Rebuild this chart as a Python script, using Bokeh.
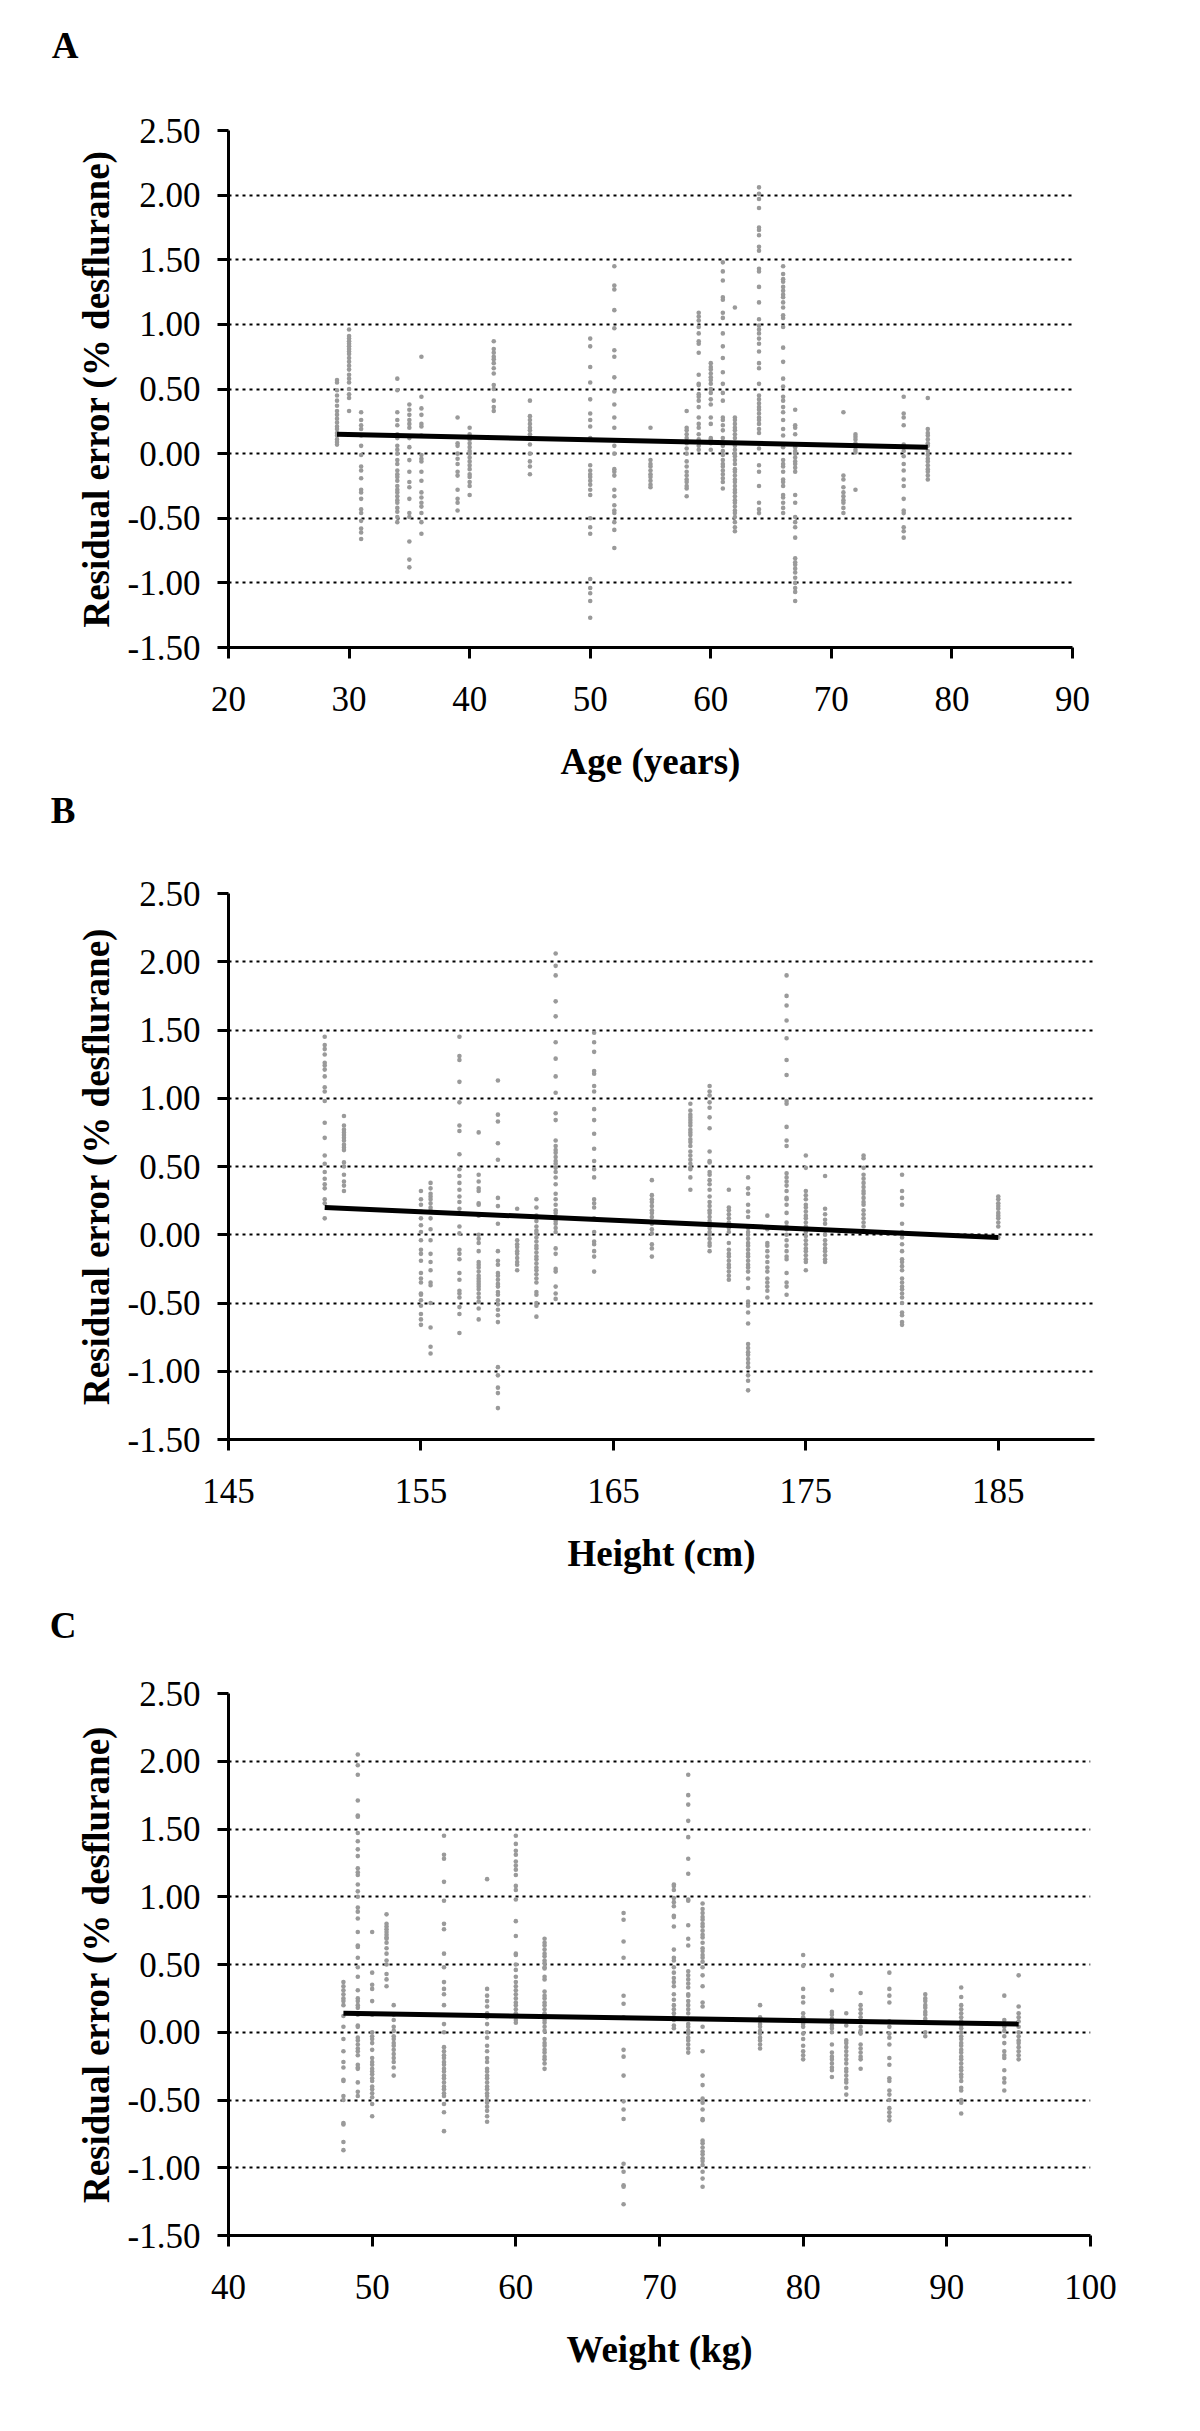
from bokeh.plotting import figure
from bokeh.layouts import column
from bokeh.models import Range1d, FixedTicker, NumeralTickFormatter
from bokeh.embed import file_html
from bokeh.resources import INLINE

# ---------------- data ----------------
panel_letters = ["A", "B", "C"]
x_labels = ["Age (years)", "Height (cm)", "Weight (kg)"]
y_label = "Residual error (% desflurane)"
y_ticks = [-1.5, -1.0, -0.5, 0.0, 0.5, 1.0, 1.5, 2.0, 2.5]

age_ticks = [20, 30, 40, 50, 60, 70, 80, 90]
age_values = [29, 30, 31, 34, 35, 36, 39, 40, 42, 45, 50, 52, 55, 58, 59, 60, 61, 62, 64, 66, 67, 71, 72, 76, 78]
age_residuals = [
    [0.57, 0.55, 0.49, 0.45, 0.41, 0.37, 0.33, 0.30, 0.27, 0.24, 0.21, 0.19, 0.16, 0.14, 0.11, 0.09, 0.07],
    [0.96, 0.91, 0.89, 0.87, 0.85, 0.83, 0.81, 0.79, 0.77, 0.74, 0.71, 0.68, 0.65, 0.61, 0.58, 0.55, 0.50, 0.46, 0.43, 0.33],
    [0.32, 0.26, 0.22, 0.19, 0.14, 0.06, -0.01, -0.10, -0.13, -0.19, -0.28, -0.30, -0.35, -0.43, -0.46, -0.52, -0.58, -0.61, -0.66],
    [0.58, 0.49, 0.32, 0.26, 0.22, 0.15, 0.12, 0.06, 0.03, 0.00, -0.05, -0.08, -0.13, -0.16, -0.18, -0.21, -0.25, -0.28, -0.30, -0.33, -0.36, -0.38, -0.42, -0.45, -0.49, -0.53],
    [0.38, 0.34, 0.30, 0.26, 0.23, 0.20, 0.12, 0.05, -0.05, -0.14, -0.22, -0.26, -0.35, -0.46, -0.49, -0.68, -0.82, -0.88],
    [0.75, 0.44, 0.35, 0.30, 0.23, 0.21, 0.14, -0.01, -0.04, -0.06, -0.14, -0.21, -0.30, -0.34, -0.38, -0.41, -0.46, -0.53, -0.62],
    [0.28, 0.08, 0.06, 0.00, -0.04, -0.08, -0.14, -0.17, -0.28, -0.35, -0.38, -0.44],
    [0.20, 0.15, 0.11, 0.08, 0.05, 0.02, 0.00, -0.03, -0.06, -0.09, -0.12, -0.16, -0.18, -0.22, -0.25, -0.32],
    [0.87, 0.81, 0.78, 0.75, 0.73, 0.70, 0.66, 0.62, 0.53, 0.50, 0.41, 0.36, 0.33],
    [0.41, 0.29, 0.26, 0.23, 0.20, 0.18, 0.15, 0.07, 0.00, -0.06, -0.10, -0.16],
    [0.89, 0.83, 0.67, 0.55, 0.42, 0.31, 0.26, 0.21, 0.12, -0.09, -0.13, -0.16, -0.18, -0.21, -0.24, -0.28, -0.32, -0.50, -0.57, -0.62, -0.97, -1.04, -1.08, -1.14, -1.27],
    [1.45, 1.30, 1.27, 1.11, 0.97, 0.80, 0.75, 0.59, 0.48, 0.38, 0.28, 0.20, 0.06, 0.00, -0.12, -0.14, -0.17, -0.28, -0.33, -0.40, -0.44, -0.46, -0.53, -0.59, -0.73],
    [0.20, -0.05, -0.08, -0.10, -0.13, -0.16, -0.18, -0.21, -0.24, -0.26],
    [0.33, 0.20, 0.18, 0.15, 0.12, 0.08, 0.04, 0.00, -0.06, -0.10, -0.14, -0.17, -0.20, -0.22, -0.25, -0.27, -0.33],
    [1.09, 1.06, 1.03, 0.98, 0.93, 0.87, 0.85, 0.78, 0.61, 0.54, 0.53, 0.46, 0.44, 0.41, 0.36, 0.28, 0.23, 0.20, 0.15, 0.11, 0.06, 0.03],
    [0.70, 0.67, 0.65, 0.62, 0.59, 0.57, 0.54, 0.50, 0.47, 0.42, 0.38, 0.28, 0.23, 0.12, 0.11, 0.08, 0.03],
    [1.48, 1.41, 1.34, 1.21, 1.19, 1.09, 1.05, 0.93, 0.83, 0.74, 0.63, 0.54, 0.47, 0.41, 0.28, 0.26, 0.22, 0.18, 0.12, 0.08, 0.06, 0.02, -0.01, -0.05, -0.08, -0.10, -0.13, -0.16, -0.19, -0.22, -0.27],
    [1.13, 0.28, 0.26, 0.23, 0.20, 0.18, 0.15, 0.12, 0.08, 0.06, 0.03, 0.00, -0.02, -0.05, -0.08, -0.12, -0.14, -0.17, -0.20, -0.22, -0.25, -0.28, -0.30, -0.33, -0.36, -0.38, -0.41, -0.44, -0.46, -0.49, -0.53, -0.57, -0.60],
    [2.06, 2.01, 1.97, 1.90, 1.75, 1.73, 1.69, 1.60, 1.57, 1.43, 1.41, 1.29, 1.17, 1.04, 0.99, 0.96, 0.93, 0.89, 0.85, 0.79, 0.70, 0.66, 0.54, 0.45, 0.42, 0.39, 0.36, 0.34, 0.31, 0.28, 0.26, 0.23, 0.19, 0.16, 0.04, -0.09, -0.14, -0.25, -0.38, -0.43, -0.46],
    [1.45, 1.39, 1.35, 1.33, 1.29, 1.26, 1.23, 1.21, 1.17, 1.13, 1.07, 1.05, 0.98, 0.82, 0.71, 0.58, 0.52, 0.44, 0.41, 0.36, 0.32, 0.26, 0.19, 0.14, 0.05, -0.05, -0.08, -0.10, -0.14, -0.20, -0.22, -0.25, -0.32, -0.34, -0.38, -0.42, -0.46],
    [0.34, 0.22, 0.20, 0.15, 0.05, 0.02, 0.00, -0.03, -0.06, -0.08, -0.11, -0.14, -0.32, -0.38, -0.49, -0.53, -0.57, -0.65, -0.81, -0.84, -0.86, -0.89, -0.92, -0.96, -1.00, -1.04, -1.07, -1.14],
    [0.32, -0.17, -0.20, -0.26, -0.30, -0.33, -0.36, -0.38, -0.42, -0.46],
    [0.15, 0.13, 0.11, 0.08, 0.06, 0.03, 0.01, -0.28],
    [0.44, 0.31, 0.28, 0.22, 0.07, 0.02, -0.02, -0.08, -0.13, -0.20, -0.25, -0.35, -0.44, -0.46, -0.57, -0.60, -0.65],
    [0.43, 0.19, 0.16, 0.14, 0.11, 0.08, 0.06, 0.02, -0.01, -0.04, -0.06, -0.09, -0.12, -0.14, -0.17, -0.20],
]
age_fit_x = [29, 78]
age_fit_y = [0.15, 0.05]

height_ticks = [145, 155, 165, 175, 185]
height_values = [150, 151, 155, 155.5, 157, 158, 159, 160, 161, 162, 164, 167, 169, 170, 171, 172, 173, 174, 175, 176, 178, 180, 185]
height_residuals = [
    [1.45, 1.39, 1.36, 1.32, 1.26, 1.24, 1.21, 1.16, 1.08, 1.05, 0.98, 0.82, 0.71, 0.58, 0.52, 0.46, 0.41, 0.37, 0.34, 0.26, 0.23, 0.12],
    [0.87, 0.80, 0.77, 0.75, 0.73, 0.71, 0.69, 0.66, 0.64, 0.62, 0.53, 0.50, 0.44, 0.39, 0.36, 0.32],
    [0.32, 0.26, 0.22, 0.17, 0.12, 0.07, 0.02, -0.04, -0.11, -0.14, -0.19, -0.28, -0.32, -0.35, -0.43, -0.44, -0.48, -0.52, -0.58, -0.62, -0.66],
    [0.38, 0.34, 0.30, 0.28, 0.26, 0.23, 0.20, 0.18, 0.12, 0.04, -0.04, -0.14, -0.20, -0.26, -0.35, -0.37, -0.50, -0.68, -0.82, -0.87],
    [1.45, 1.31, 1.28, 1.12, 0.97, 0.80, 0.76, 0.59, 0.48, 0.43, 0.38, 0.33, 0.28, 0.24, 0.19, 0.06, 0.01, -0.11, -0.14, -0.18, -0.28, -0.33, -0.41, -0.43, -0.46, -0.53, -0.58, -0.72],
    [0.75, 0.44, 0.39, 0.34, 0.32, 0.23, 0.22, 0.14, 0.00, -0.03, -0.06, -0.12, -0.20, -0.22, -0.24, -0.27, -0.30, -0.32, -0.34, -0.36, -0.38, -0.40, -0.43, -0.46, -0.49, -0.54, -0.62],
    [1.13, 0.88, 0.83, 0.67, 0.55, 0.27, 0.21, 0.08, -0.12, -0.19, -0.22, -0.28, -0.30, -0.33, -0.36, -0.38, -0.42, -0.44, -0.48, -0.51, -0.55, -0.59, -0.64, -0.97, -1.03, -1.12, -1.16, -1.27],
    [0.19, -0.04, -0.07, -0.09, -0.12, -0.14, -0.17, -0.20, -0.22, -0.26],
    [0.26, 0.20, 0.14, 0.10, 0.06, 0.03, 0.01, -0.02, -0.05, -0.08, -0.10, -0.13, -0.16, -0.18, -0.21, -0.24, -0.26, -0.29, -0.32, -0.35, -0.42, -0.44, -0.50, -0.52, -0.60],
    [2.06, 1.97, 1.90, 1.71, 1.60, 1.41, 1.29, 1.16, 1.04, 0.89, 0.84, 0.69, 0.65, 0.62, 0.60, 0.57, 0.54, 0.52, 0.49, 0.46, 0.42, 0.37, 0.30, 0.26, 0.22, 0.18, 0.16, 0.13, 0.10, 0.08, 0.05, 0.02, -0.10, -0.14, -0.25, -0.27, -0.38, -0.43, -0.47],
    [1.48, 1.41, 1.34, 1.20, 1.18, 1.09, 1.05, 0.92, 0.84, 0.74, 0.63, 0.54, 0.48, 0.42, 0.26, 0.23, 0.20, 0.12, 0.02, -0.05, -0.07, -0.12, -0.16, -0.27],
    [0.40, 0.29, 0.26, 0.24, 0.21, 0.18, 0.16, 0.13, 0.08, 0.04, 0.01, -0.07, -0.10, -0.16],
    [0.96, 0.91, 0.88, 0.86, 0.84, 0.82, 0.80, 0.77, 0.75, 0.73, 0.70, 0.68, 0.65, 0.61, 0.58, 0.55, 0.52, 0.49, 0.48, 0.42, 0.33],
    [1.09, 1.05, 1.02, 0.97, 0.93, 0.86, 0.78, 0.61, 0.54, 0.53, 0.46, 0.44, 0.40, 0.37, 0.33, 0.28, 0.24, 0.21, 0.18, 0.16, 0.13, 0.10, 0.08, 0.05, 0.02, 0.00, -0.03, -0.06, -0.08, -0.12],
    [0.33, 0.20, 0.18, 0.15, 0.12, 0.09, 0.05, 0.02, -0.06, -0.11, -0.14, -0.16, -0.19, -0.22, -0.24, -0.27, -0.30, -0.33],
    [0.42, 0.34, 0.30, 0.22, 0.17, 0.13, 0.05, 0.02, 0.00, -0.03, -0.06, -0.08, -0.11, -0.14, -0.16, -0.19, -0.22, -0.24, -0.27, -0.32, -0.39, -0.49, -0.52, -0.57, -0.65, -0.80, -0.83, -0.86, -0.88, -0.91, -0.94, -0.97, -1.03, -1.07, -1.14],
    [0.14, 0.04, -0.06, -0.08, -0.12, -0.16, -0.20, -0.24, -0.27, -0.32, -0.35, -0.38, -0.41, -0.46],
    [1.90, 1.75, 1.68, 1.57, 1.44, 1.28, 1.17, 0.98, 0.96, 0.79, 0.69, 0.65, 0.45, 0.42, 0.39, 0.36, 0.32, 0.27, 0.26, 0.22, 0.16, 0.09, 0.06, 0.04, 0.00, -0.04, -0.08, -0.12, -0.16, -0.18, -0.28, -0.35, -0.38, -0.44],
    [0.58, 0.49, 0.32, 0.29, 0.26, 0.22, 0.20, 0.17, 0.14, 0.12, 0.09, 0.06, 0.04, 0.02, -0.01, -0.04, -0.07, -0.10, -0.12, -0.15, -0.18, -0.20, -0.26],
    [0.43, 0.19, 0.15, 0.11, 0.08, 0.03, 0.00, -0.04, -0.07, -0.10, -0.12, -0.15, -0.18, -0.20],
    [0.58, 0.56, 0.49, 0.44, 0.41, 0.38, 0.35, 0.32, 0.30, 0.27, 0.24, 0.22, 0.18, 0.15, 0.12, 0.09, 0.06],
    [0.44, 0.32, 0.27, 0.22, 0.08, 0.02, -0.02, -0.07, -0.12, -0.18, -0.20, -0.23, -0.26, -0.32, -0.35, -0.38, -0.40, -0.43, -0.46, -0.50, -0.57, -0.59, -0.64, -0.66],
    [0.28, 0.26, 0.23, 0.21, 0.19, 0.16, 0.14, 0.12, 0.09, 0.06, -0.02],
]
height_fit_x = [150, 185]
height_fit_y = [0.20, -0.02]

weight_ticks = [40, 50, 60, 70, 80, 90, 100]
weight_values = [48, 49, 50, 51, 51.5, 55, 58, 60, 62, 67.5, 71, 72, 73, 77, 80, 82, 83, 84, 86, 88.5, 91, 94, 95]
weight_residuals = [
    [0.37, 0.34, 0.31, 0.28, 0.25, 0.23, 0.20, 0.12, 0.04, -0.05, -0.14, -0.22, -0.26, -0.35, -0.36, -0.47, -0.50, -0.67, -0.68, -0.81, -0.87],
    [2.05, 1.97, 1.90, 1.71, 1.60, 1.59, 1.47, 1.41, 1.35, 1.30, 1.21, 1.18, 1.16, 1.09, 1.04, 1.00, 0.92, 0.89, 0.84, 0.74, 0.64, 0.63, 0.55, 0.48, 0.41, 0.31, 0.25, 0.23, 0.20, 0.18, 0.13, 0.05, 0.04, -0.04, -0.06, -0.09, -0.12, -0.14, -0.17, -0.24, -0.26, -0.27, -0.37, -0.44, -0.47],
    [0.74, 0.44, 0.35, 0.32, 0.23, 0.13, 0.00, -0.03, -0.05, -0.08, -0.13, -0.19, -0.22, -0.24, -0.27, -0.29, -0.31, -0.34, -0.36, -0.40, -0.42, -0.45, -0.48, -0.53, -0.62],
    [0.87, 0.80, 0.78, 0.76, 0.74, 0.72, 0.70, 0.69, 0.66, 0.62, 0.58, 0.53, 0.50, 0.43, 0.39, 0.34],
    [0.20, 0.13, 0.09, 0.04, 0.01, -0.03, -0.05, -0.08, -0.10, -0.13, -0.16, -0.19, -0.22, -0.26, -0.32],
    [1.45, 1.31, 1.28, 1.11, 0.97, 0.80, 0.76, 0.58, 0.48, 0.37, 0.32, 0.28, 0.20, 0.06, 0.00, -0.11, -0.14, -0.17, -0.19, -0.22, -0.24, -0.27, -0.29, -0.32, -0.34, -0.37, -0.40, -0.42, -0.45, -0.47, -0.53, -0.59, -0.73],
    [1.13, 0.32, 0.27, 0.23, 0.19, 0.14, 0.11, 0.06, 0.00, -0.04, -0.10, -0.14, -0.19, -0.22, -0.27, -0.29, -0.32, -0.34, -0.37, -0.40, -0.42, -0.45, -0.47, -0.50, -0.52, -0.55, -0.58, -0.62, -0.66],
    [1.45, 1.39, 1.34, 1.31, 1.26, 1.23, 1.20, 1.16, 1.08, 1.05, 0.98, 0.82, 0.71, 0.58, 0.57, 0.50, 0.46, 0.41, 0.37, 0.34, 0.31, 0.28, 0.25, 0.22, 0.20, 0.17, 0.14, 0.12, 0.09, 0.07],
    [0.69, 0.66, 0.64, 0.61, 0.58, 0.56, 0.53, 0.51, 0.48, 0.47, 0.41, 0.39, 0.30, 0.27, 0.25, 0.22, 0.20, 0.17, 0.14, 0.12, 0.09, 0.07, 0.04, 0.01, -0.05, -0.08, -0.10, -0.13, -0.15, -0.18, -0.20, -0.23, -0.27],
    [0.88, 0.83, 0.67, 0.55, 0.27, 0.21, 0.11, -0.13, -0.18, -0.32, -0.51, -0.57, -0.64, -0.97, -1.03, -1.13, -1.14, -1.27],
    [1.09, 1.08, 1.05, 0.99, 0.96, 0.93, 0.86, 0.85, 0.78, 0.61, 0.55, 0.53, 0.48, 0.44, 0.40, 0.37, 0.34, 0.28, 0.24, 0.20, 0.17, 0.14, 0.11, 0.09, 0.05, 0.03],
    [1.90, 1.75, 1.68, 1.56, 1.44, 1.28, 1.17, 0.98, 0.97, 0.79, 0.69, 0.64, 0.45, 0.42, 0.39, 0.36, 0.33, 0.28, 0.27, 0.23, 0.20, 0.17, 0.14, 0.10, 0.06, 0.04, 0.01, -0.01, -0.04, -0.06, -0.09, -0.12, -0.15],
    [0.95, 0.91, 0.88, 0.85, 0.83, 0.80, 0.78, 0.75, 0.72, 0.70, 0.66, 0.62, 0.60, 0.57, 0.55, 0.52, 0.48, 0.42, 0.34, 0.22, 0.19, 0.04, -0.14, -0.32, -0.39, -0.49, -0.52, -0.57, -0.64, -0.65, -0.80, -0.82, -0.85, -0.88, -0.90, -0.93, -0.95, -0.98, -1.03, -1.08, -1.14],
    [0.20, 0.11, 0.09, 0.06, 0.04, 0.01, -0.01, -0.04, -0.06, -0.09, -0.12],
    [0.57, 0.49, 0.32, 0.26, 0.22, 0.14, 0.11, 0.06, 0.04, -0.01, -0.05, -0.10, -0.14, -0.17, -0.20],
    [0.42, 0.31, 0.15, 0.13, 0.10, 0.08, 0.05, 0.03, 0.00, -0.09, -0.15, -0.18, -0.20, -0.23, -0.26, -0.28, -0.33],
    [0.14, 0.05, -0.06, -0.08, -0.11, -0.14, -0.17, -0.20, -0.23, -0.27, -0.29, -0.32, -0.35, -0.37, -0.41, -0.46],
    [0.29, 0.20, 0.17, 0.14, 0.11, 0.08, 0.04, 0.01, -0.01, -0.09, -0.12, -0.15, -0.18, -0.20, -0.27],
    [0.44, 0.32, 0.27, 0.22, 0.08, 0.04, -0.01, -0.04, -0.09, -0.19, -0.24, -0.34, -0.36, -0.43, -0.46, -0.50, -0.56, -0.59, -0.62, -0.65],
    [0.28, 0.25, 0.23, 0.20, 0.18, 0.15, 0.13, 0.10, 0.08, 0.00, -0.03],
    [0.33, 0.26, 0.20, 0.17, 0.14, 0.11, 0.08, 0.05, 0.03, 0.00, -0.03, -0.05, -0.08, -0.10, -0.13, -0.15, -0.18, -0.20, -0.23, -0.26, -0.28, -0.31, -0.33, -0.36, -0.41, -0.43, -0.50, -0.52, -0.60],
    [0.27, 0.09, 0.06, 0.04, 0.01, -0.03, -0.08, -0.14, -0.17, -0.19, -0.28, -0.34, -0.37, -0.43],
    [0.42, 0.19, 0.14, 0.11, 0.08, 0.04, 0.00, -0.03, -0.06, -0.08, -0.11, -0.14, -0.17, -0.20],
]
weight_fit_x = [48, 95]
weight_fit_y = [0.14, 0.06]

# ---------------- styling ----------------
SERIF = "Liberation Serif"
DOT_COLOR = "#9a9a9a"
PAGE_W = 1200
LEFT = 228


def make_letter(letter, frame_w, strip_h, standoff):
    """A thin strip whose (horizontal) left-axis label is the panel letter."""
    p = figure(output_backend="svg", toolbar_location=None,
               frame_width=frame_w, frame_height=strip_h,
               min_border_left=LEFT, min_border_right=PAGE_W - LEFT - frame_w,
               min_border_top=0, min_border_bottom=0,
               x_range=Range1d(0, 1), y_range=Range1d(0, 1),
               x_axis_location=None)
    p.grid.visible = False
    p.outline_line_color = None
    ax = p.yaxis[0]
    ax.ticker = FixedTicker(ticks=[])
    ax.axis_line_color = None
    ax.major_tick_line_color = None
    ax.minor_tick_line_color = None
    ax.major_tick_out = 0
    ax.major_tick_in = 0
    ax.major_label_text_font_size = "1px"
    ax.axis_label = letter
    ax.axis_label_orientation = "horizontal"
    ax.axis_label_text_font = SERIF
    ax.axis_label_text_font_style = "bold"
    ax.axis_label_text_font_size = "37px"
    ax.axis_label_text_color = "black"
    ax.axis_label_standoff = standoff
    return p


def make_panel(xlabel, xvals, cols, xlim, xticks, fit_x, fit_y,
               frame_w, frame_h, border_top, border_bottom):
    p = figure(output_backend="svg", toolbar_location=None,
               frame_width=frame_w, frame_height=frame_h,
               min_border_left=LEFT, min_border_right=PAGE_W - LEFT - frame_w,
               min_border_top=border_top, min_border_bottom=border_bottom,
               x_range=Range1d(xlim[0], xlim[1]), y_range=Range1d(-1.5, 2.5))
    p.outline_line_color = None
    p.background_fill_color = "white"
    p.border_fill_color = "white"

    xs = [x for x, col in zip(xvals, cols) for _ in col]
    ys = [y for col in cols for y in col]
    p.scatter(xs, ys, size=4.6, marker="circle", fill_color=DOT_COLOR, line_color=None)
    p.line(fit_x, fit_y, line_width=5, line_color="black")

    yt = FixedTicker(ticks=y_ticks)
    p.yaxis.ticker = yt
    p.ygrid.ticker = yt
    p.yaxis.formatter = NumeralTickFormatter(format="0.00")
    p.xaxis.ticker = FixedTicker(ticks=xticks)
    p.xgrid.visible = False
    p.ygrid.grid_line_color = "black"
    p.ygrid.grid_line_width = 2
    p.ygrid.grid_line_dash = "3 4"

    for ax in (p.xaxis, p.yaxis):
        ax.axis_line_color = "black"
        ax.axis_line_width = 3
        ax.major_tick_line_color = "black"
        ax.major_tick_line_width = 3
        ax.major_tick_out = 11
        ax.major_tick_in = 0
        ax.minor_tick_line_color = None
        ax.major_label_text_font = SERIF
        ax.major_label_text_font_size = "35px"
        ax.major_label_text_color = "black"
        ax.axis_label_text_font = SERIF
        ax.axis_label_text_font_style = "bold"
        ax.axis_label_text_font_size = "37px"
        ax.axis_label_text_color = "black"

    p.yaxis.major_label_standoff = 17
    p.yaxis.axis_label = y_label
    p.yaxis.axis_label_standoff = 8
    p.xaxis.major_label_standoff = 28
    p.xaxis.axis_label = xlabel
    p.xaxis.axis_label_standoff = 27
    return p


# page rows: letter strip, panel, letter strip, panel, letter strip, panel
lA = make_letter(panel_letters[0], 844, 89, 150)
pA = make_panel(x_labels[0], age_values, age_residuals, (20, 90), age_ticks,
                age_fit_x, age_fit_y, 844, 517, 41, 142)
lB = make_letter(panel_letters[1], 866, 41, 153)
pB = make_panel(x_labels[1], height_values, height_residuals, (145, 190), height_ticks,
                height_fit_x, height_fit_y, 866, 546, 63, 150)
lC = make_letter(panel_letters[2], 862, 71, 152)
pC = make_panel(x_labels[2], weight_values, weight_residuals, (40, 100), weight_ticks,
                weight_fit_x, weight_fit_y, 862, 542, 33, 150)

layout = column(lA, pA, lB, pB, lC, pC, spacing=0)
open("out.html", "w").write(file_html(layout, INLINE))
